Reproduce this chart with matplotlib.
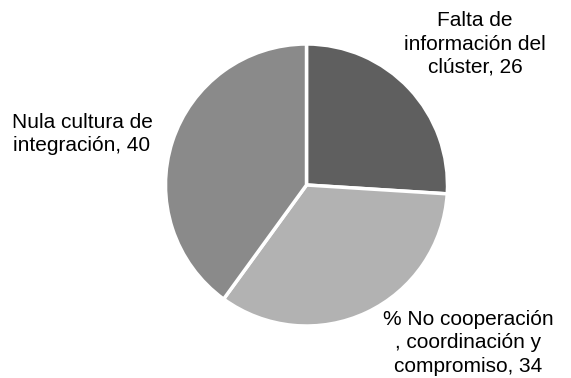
import matplotlib
matplotlib.use("Agg")
import matplotlib.pyplot as plt

categories = ["Falta de\ninformación del\nclúster", "% No cooperación\n, coordinación y\ncompromiso", "Nula cultura de\nintegración"]
values = [26, 34, 40]
colors = ["#5f5f5f", "#b2b2b2", "#8a8a8a"]

plt.rcParams['font.family'] = ['Liberation Sans', 'DejaVu Sans']

W, H = 571, 378
fig = plt.figure(figsize=(W / 100, H / 100), dpi=100)
ax = fig.add_axes([0, 0, 1, 1])
ax.pie(values, colors=colors, startangle=90, counterclock=False,
       center=(306.5, 193), radius=141,
       wedgeprops=dict(edgecolor="white", linewidth=2.5))
ax.set_xlim(0, W)
ax.set_ylim(0, H)
ax.set_aspect("equal")
ax.axis("off")

label_pos = [(475, H - 44), (468, H - 343), (82, H - 134)]
for cat, val, (x, y) in zip(categories, values, label_pos):
    ax.text(x, y, f"{cat}, {val}", ha="center", va="center",
            multialignment="center", fontsize=15, color="black",
            linespacing=1.28)

fig.savefig("out.png", dpi=100)
